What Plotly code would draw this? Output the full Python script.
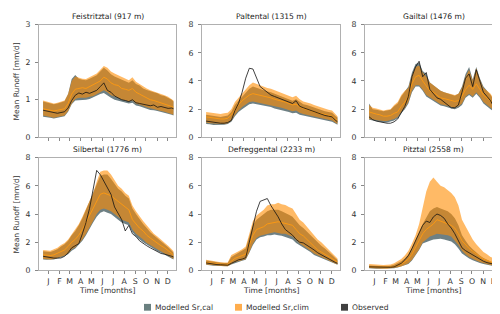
import plotly.graph_objects as go

DAYS = [0, 10, 20, 30, 40, 50, 60, 70, 80, 90, 100, 110, 120, 130, 140, 150, 160, 170, 180,
        190, 200, 210, 220, 230, 240, 250, 260, 270, 280, 290, 300, 310, 320, 330, 340, 350, 360, 365]

MONTH_DAYS = [15, 46, 74, 105, 135, 166, 196, 227, 258, 288, 319, 349]
MONTH_LABELS = ["J", "F", "M", "A", "M", "J", "J", "A", "S", "O", "N", "D"]

TITLES = ["Feistritztal (917 m)", "Paltental (1315 m)", "Gailtal (1476 m)",
          "Silbertal (1776 m)", "Defreggental (2233 m)", "Pitztal (2558 m)"]

# Feistritztal
feis_obs = [0.72, 0.7, 0.66, 0.64, 0.64, 0.66, 0.68, 0.78, 0.98, 1.12, 1.18, 1.15, 1.2, 1.17, 1.22, 1.25, 1.35, 1.45, 1.25,
            1.2, 1.1, 1.05, 1.0, 0.98, 0.95, 1.0, 0.92, 0.9, 0.88, 0.86, 0.84, 0.86, 0.8, 0.82, 0.8, 0.77, 0.78, 0.76]
feis_med = [0.76, 0.74, 0.72, 0.7, 0.72, 0.74, 0.76, 0.9, 1.15, 1.28, 1.3, 1.32, 1.3, 1.35, 1.4, 1.45, 1.5, 1.6, 1.55,
            1.45, 1.4, 1.38, 1.3, 1.28, 1.25, 1.3, 1.2, 1.15, 1.1, 1.05, 1.0, 0.98, 0.95, 0.92, 0.9, 0.85, 0.82, 0.8]
feis_clim_lo = [0.58, 0.56, 0.54, 0.52, 0.54, 0.56, 0.58, 0.7, 0.9, 1.02, 1.05, 1.05, 1.05, 1.08, 1.1, 1.15, 1.2, 1.25, 1.2,
                1.12, 1.08, 1.05, 1.0, 0.98, 0.95, 0.98, 0.9, 0.88, 0.84, 0.8, 0.76, 0.75, 0.72, 0.7, 0.68, 0.65, 0.62, 0.6]
feis_clim_hi = [0.98, 0.96, 0.92, 0.9, 0.92, 0.95, 0.98, 1.15, 1.5, 1.62, 1.58, 1.56, 1.55, 1.6, 1.65, 1.7, 1.8, 1.9, 1.85,
                1.75, 1.7, 1.65, 1.6, 1.55, 1.52, 1.6, 1.48, 1.42, 1.35, 1.3, 1.25, 1.22, 1.2, 1.15, 1.12, 1.08, 1.02, 0.98]
feis_cal_lo = [0.55, 0.53, 0.52, 0.5, 0.52, 0.54, 0.56, 0.68, 0.88, 0.98, 1.0, 1.0, 1.0, 1.02, 1.05, 1.1, 1.15, 1.18, 1.12,
               1.05, 1.0, 0.98, 0.94, 0.92, 0.9, 0.92, 0.85, 0.83, 0.8, 0.76, 0.73, 0.72, 0.7, 0.68, 0.66, 0.63, 0.6, 0.58]
feis_cal_hi = [0.95, 0.93, 0.9, 0.88, 0.9, 0.93, 0.96, 1.15, 1.55, 1.66, 1.56, 1.53, 1.52, 1.56, 1.6, 1.65, 1.75, 1.85, 1.78,
               1.68, 1.62, 1.58, 1.52, 1.48, 1.45, 1.52, 1.42, 1.38, 1.3, 1.26, 1.22, 1.2, 1.17, 1.12, 1.1, 1.06, 1.0, 0.95]

# Paltental
palt_obs = [1.15, 1.1, 1.05, 1.0, 1.0, 1.0, 1.05, 1.2, 1.9, 2.4, 3.2, 4.2, 4.9, 4.85, 4.2, 3.6, 3.4, 3.2, 3.0,
            2.9, 2.8, 2.75, 2.6, 2.5, 2.4, 2.6, 2.2, 2.1, 2.0, 1.9, 1.8, 1.7, 1.65, 1.55, 1.5, 1.45, 1.2, 1.1]
palt_med = [1.45, 1.4, 1.35, 1.3, 1.3, 1.3, 1.35, 1.6, 2.0, 2.3, 2.6, 2.8, 3.0, 3.1, 3.05, 3.0, 2.9, 2.85, 2.8,
            2.7, 2.65, 2.6, 2.5, 2.4, 2.3, 2.35, 2.15, 2.05, 2.0, 1.9, 1.8, 1.75, 1.65, 1.6, 1.55, 1.5, 1.3, 1.2]
palt_clim_lo = [1.05, 1.0, 0.95, 0.95, 0.95, 0.95, 1.0, 1.2, 1.6, 1.9, 2.15, 2.35, 2.5, 2.55, 2.5, 2.45, 2.4, 2.35, 2.3,
                2.2, 2.15, 2.1, 2.0, 1.95, 1.85, 1.9, 1.75, 1.65, 1.6, 1.55, 1.45, 1.4, 1.35, 1.3, 1.25, 1.2, 1.05, 0.95]
palt_clim_hi = [1.8, 1.75, 1.7, 1.65, 1.65, 1.7, 1.75, 2.0, 2.5, 2.8, 3.1, 3.4, 3.7, 3.9, 3.8, 3.7, 3.55, 3.5, 3.45,
                3.35, 3.25, 3.2, 3.1, 3.0, 2.85, 2.95, 2.7, 2.55, 2.5, 2.4, 2.3, 2.2, 2.1, 2.0, 1.95, 1.9, 1.65, 1.5]
palt_cal_lo = [0.95, 0.92, 0.88, 0.88, 0.88, 0.9, 0.95, 1.1, 1.5, 1.8, 2.0, 2.2, 2.35, 2.4, 2.35, 2.3, 2.25, 2.2, 2.15,
               2.05, 2.0, 1.95, 1.85, 1.8, 1.7, 1.75, 1.6, 1.55, 1.5, 1.45, 1.35, 1.3, 1.25, 1.2, 1.15, 1.1, 0.98, 0.9]
palt_cal_hi = [1.6, 1.55, 1.5, 1.45, 1.45, 1.5, 1.55, 1.8, 2.3, 2.6, 2.9, 3.2, 3.45, 3.6, 3.5, 3.4, 3.3, 3.25, 3.2,
               3.1, 3.0, 2.95, 2.85, 2.75, 2.6, 2.7, 2.5, 2.35, 2.3, 2.2, 2.1, 2.0, 1.95, 1.85, 1.8, 1.75, 1.5, 1.4]

# Gailtal
gail_obs = [1.45, 1.25, 1.15, 1.1, 1.0, 1.0, 1.0, 1.1, 1.3, 1.7, 2.2, 2.9, 4.3, 5.0, 5.4, 4.3, 4.6, 3.4, 3.1,
            2.8, 2.7, 2.5, 2.3, 2.1, 2.1, 2.3, 3.2, 4.2, 4.5, 3.6, 4.8, 4.0, 3.2, 2.9, 2.6, 2.1, 1.7, 1.55]
gail_med = [1.8, 1.7, 1.65, 1.6, 1.5, 1.5, 1.55, 1.7, 1.8, 2.2, 2.5, 2.9, 3.8, 4.3, 4.4, 4.0, 3.6, 3.3, 3.2,
            3.0, 2.8, 2.75, 2.7, 2.6, 2.55, 2.6, 2.9, 3.4, 3.7, 3.4, 3.8, 3.4, 3.0, 2.8, 2.6, 2.3, 2.0, 1.8]
gail_clim_lo = [1.3, 1.3, 1.25, 1.2, 1.15, 1.15, 1.2, 1.3, 1.45, 1.8, 2.1, 2.5, 3.3, 3.7, 3.7, 3.4, 3.0, 2.8, 2.7,
                2.5, 2.35, 2.3, 2.25, 2.15, 2.1, 2.2, 2.4, 2.9, 3.1, 2.9, 3.2, 2.9, 2.5, 2.3, 2.1, 1.9, 1.6, 1.4]
gail_clim_hi = [2.3, 2.1, 2.05, 2.0, 1.9, 1.95, 2.0, 2.3, 2.5, 3.0, 3.3, 3.5, 4.4, 5.0, 5.1, 4.6, 4.3, 3.9, 3.7,
                3.5, 3.3, 3.2, 3.15, 3.1, 3.0, 3.1, 3.5, 4.3, 4.8, 4.0, 4.9, 4.1, 3.5, 3.3, 3.1, 2.7, 2.4, 2.2]
gail_cal_lo = [1.25, 1.2, 1.15, 1.1, 1.05, 1.05, 1.1, 1.2, 1.35, 1.7, 2.0, 2.4, 3.2, 3.6, 3.6, 3.3, 2.9, 2.7, 2.6,
               2.4, 2.25, 2.2, 2.15, 2.05, 2.0, 2.1, 2.3, 2.8, 3.0, 2.8, 3.1, 2.8, 2.4, 2.2, 2.0, 1.8, 1.5, 1.3]
gail_cal_hi = [2.4, 2.0, 1.95, 1.9, 1.85, 1.9, 1.95, 2.2, 2.4, 2.9, 3.3, 3.6, 4.6, 5.2, 5.3, 4.7, 4.5, 3.9, 3.7,
               3.5, 3.3, 3.2, 3.1, 3.0, 2.95, 3.1, 3.6, 4.5, 5.0, 4.1, 5.0, 4.2, 3.6, 3.3, 3.0, 2.6, 2.3, 2.1]

# Silbertal
silb_obs = [1.0, 0.95, 0.88, 0.87, 0.87, 0.88, 1.0, 1.25, 1.6, 1.75, 1.9, 2.6, 3.4, 4.4, 5.7, 7.1, 6.8, 6.3, 5.9,
            5.4, 4.5, 4.0, 3.6, 2.8, 3.2, 2.6, 2.4, 2.1, 1.9, 1.75, 1.6, 1.45, 1.35, 1.2, 1.15, 1.1, 1.0, 0.95]
silb_med = [1.1, 1.05, 1.05, 1.1, 1.2, 1.3, 1.45, 1.7, 2.0, 2.2, 2.5, 2.9, 3.4, 3.9, 4.4, 4.9, 5.4, 5.5, 5.4,
            5.3, 5.1, 4.9, 4.7, 4.5, 4.3, 3.6, 3.3, 3.0, 2.8, 2.5, 2.3, 2.1, 1.9, 1.75, 1.6, 1.4, 1.2, 1.1]
silb_clim_lo = [0.8, 0.78, 0.78, 0.8, 0.88, 0.95, 1.05, 1.2, 1.5, 1.65, 1.9, 2.2, 2.6, 3.0, 3.5, 4.0, 4.3, 4.4, 4.3,
                4.2, 4.0, 3.8, 3.6, 3.5, 3.4, 2.9, 2.6, 2.4, 2.2, 1.95, 1.8, 1.6, 1.45, 1.35, 1.2, 1.05, 0.9, 0.8]
silb_clim_hi = [1.45, 1.4, 1.4, 1.5, 1.6, 1.8, 1.95, 2.2, 2.6, 2.9, 3.3, 3.8, 4.4, 4.9, 5.5, 6.3, 7.0, 7.1, 7.1,
                6.8, 6.4, 6.0, 5.8, 5.5, 5.3, 4.6, 4.2, 3.8, 3.5, 3.2, 2.9, 2.6, 2.4, 2.2, 2.0, 1.75, 1.5, 1.35]
silb_cal_lo = [0.78, 0.75, 0.75, 0.78, 0.85, 0.9, 1.0, 1.15, 1.4, 1.55, 1.8, 2.1, 2.5, 2.9, 3.4, 3.8, 4.1, 4.2, 4.1,
               4.0, 3.8, 3.6, 3.4, 3.3, 3.2, 2.7, 2.4, 2.2, 2.0, 1.8, 1.65, 1.5, 1.35, 1.25, 1.1, 1.0, 0.85, 0.78]
silb_cal_hi = [1.35, 1.3, 1.3, 1.4, 1.5, 1.7, 1.85, 2.1, 2.5, 2.8, 3.2, 3.7, 4.3, 4.8, 5.4, 6.1, 6.7, 6.8, 6.8,
               6.5, 6.1, 5.8, 5.6, 5.3, 5.1, 4.4, 4.0, 3.6, 3.3, 3.0, 2.7, 2.5, 2.3, 2.1, 1.9, 1.65, 1.4, 1.25]

# Defreggental
defr_obs = [0.53, 0.48, 0.43, 0.41, 0.4, 0.38, 0.37, 0.5, 0.65, 0.75, 0.8, 0.9, 2.0, 3.2, 4.2, 4.9, 5.0, 5.1, 4.6,
            4.2, 3.8, 3.3, 2.9, 2.7, 2.5, 2.2, 2.0, 1.95, 1.8, 1.6, 1.45, 1.25, 1.1, 0.95, 0.85, 0.7, 0.55, 0.5]
defr_med = [0.57, 0.52, 0.48, 0.46, 0.44, 0.42, 0.42, 0.65, 0.85, 0.95, 1.05, 1.15, 1.8, 2.5, 2.9, 3.0, 3.1, 3.3, 3.35,
            3.4, 3.45, 3.4, 3.35, 3.3, 3.2, 2.9, 2.6, 2.45, 2.2, 1.95, 1.7, 1.45, 1.3, 1.15, 1.0, 0.8, 0.65, 0.6]
defr_clim_lo = [0.42, 0.38, 0.35, 0.33, 0.32, 0.3, 0.3, 0.45, 0.6, 0.65, 0.72, 0.8, 1.3, 1.9, 2.3, 2.45, 2.5, 2.6, 2.65,
                2.7, 2.65, 2.6, 2.6, 2.5, 2.4, 2.15, 1.9, 1.75, 1.6, 1.4, 1.2, 1.05, 0.95, 0.85, 0.72, 0.6, 0.48, 0.42]
defr_clim_hi = [0.75, 0.7, 0.65, 0.62, 0.58, 0.56, 0.56, 1.1, 1.2, 1.35, 1.5, 1.7, 2.6, 3.5, 3.9, 4.1, 4.3, 4.6, 4.7,
                4.7, 4.8, 4.7, 4.65, 4.5, 4.4, 4.0, 3.6, 3.4, 3.1, 2.8, 2.5, 2.2, 2.0, 1.75, 1.5, 1.25, 0.95, 0.85]
defr_cal_lo = [0.4, 0.36, 0.33, 0.31, 0.3, 0.29, 0.29, 0.42, 0.55, 0.6, 0.68, 0.75, 1.25, 1.8, 2.2, 2.35, 2.4, 2.5, 2.5,
               2.55, 2.5, 2.45, 2.4, 2.3, 2.2, 1.95, 1.75, 1.6, 1.45, 1.3, 1.1, 0.95, 0.85, 0.75, 0.65, 0.55, 0.45, 0.4]
defr_cal_hi = [0.7, 0.65, 0.6, 0.58, 0.55, 0.52, 0.52, 0.95, 1.1, 1.25, 1.35, 1.55, 2.4, 3.2, 3.6, 3.8, 4.0, 4.2, 4.3,
               4.3, 4.3, 4.2, 4.1, 3.95, 3.8, 3.5, 3.2, 3.0, 2.75, 2.5, 2.2, 1.95, 1.75, 1.55, 1.35, 1.1, 0.85, 0.75]

# Pitztal
pitz_obs = [0.25, 0.24, 0.22, 0.2, 0.2, 0.2, 0.22, 0.25, 0.35, 0.5, 0.75, 1.05, 1.55, 2.1, 2.6, 3.2, 3.5, 3.4, 3.8,
            4.0, 3.9, 3.7, 3.3, 3.0, 2.6, 2.1, 1.6, 1.4, 1.25, 1.1, 0.92, 0.8, 0.65, 0.55, 0.48, 0.42, 0.36, 0.35]
pitz_med = [0.26, 0.25, 0.23, 0.22, 0.22, 0.22, 0.24, 0.28, 0.35, 0.45, 0.6, 0.8, 1.15, 1.6, 2.1, 2.6, 2.9, 3.1, 3.3,
            3.6, 3.5, 3.4, 3.3, 3.2, 3.0, 2.6, 2.1, 1.8, 1.55, 1.35, 1.15, 0.95, 0.8, 0.7, 0.58, 0.5, 0.42, 0.4]
pitz_clim_lo = [0.16, 0.15, 0.13, 0.12, 0.12, 0.12, 0.14, 0.17, 0.22, 0.28, 0.38, 0.5, 0.75, 1.1, 1.5, 2.0, 2.2, 2.4, 2.5,
                2.6, 2.6, 2.55, 2.5, 2.4, 2.1, 1.8, 1.4, 1.15, 0.95, 0.82, 0.7, 0.6, 0.5, 0.45, 0.38, 0.32, 0.27, 0.25]
pitz_clim_hi = [0.45, 0.42, 0.4, 0.38, 0.38, 0.4, 0.42, 0.5, 0.65, 0.8, 1.05, 1.4, 1.9, 2.5, 3.3, 4.4, 5.6, 6.3, 6.6,
                6.3, 6.0, 5.9, 5.7, 5.5, 5.2, 4.6, 3.6, 3.1, 2.6, 2.2, 1.85, 1.6, 1.3, 1.15, 0.95, 0.85, 0.7, 0.65]
pitz_cal_lo = [0.15, 0.14, 0.12, 0.11, 0.11, 0.11, 0.13, 0.15, 0.2, 0.25, 0.35, 0.45, 0.7, 1.05, 1.45, 1.9, 2.0, 2.1, 2.2,
               2.25, 2.25, 2.2, 2.15, 2.05, 1.85, 1.55, 1.2, 1.0, 0.85, 0.72, 0.6, 0.52, 0.45, 0.4, 0.34, 0.3, 0.25, 0.23]
pitz_cal_hi = [0.35, 0.33, 0.3, 0.29, 0.29, 0.3, 0.32, 0.4, 0.5, 0.65, 0.85, 1.15, 1.6, 2.1, 2.7, 3.3, 3.8, 4.2, 4.4,
               4.5, 4.4, 4.3, 4.2, 4.0, 3.7, 3.2, 2.5, 2.1, 1.75, 1.5, 1.25, 1.05, 0.88, 0.75, 0.62, 0.53, 0.45, 0.42]

PANELS = [
    (feis_obs, feis_med, feis_clim_lo, feis_clim_hi, feis_cal_lo, feis_cal_hi),
    (palt_obs, palt_med, palt_clim_lo, palt_clim_hi, palt_cal_lo, palt_cal_hi),
    (gail_obs, gail_med, gail_clim_lo, gail_clim_hi, gail_cal_lo, gail_cal_hi),
    (silb_obs, silb_med, silb_clim_lo, silb_clim_hi, silb_cal_lo, silb_cal_hi),
    (defr_obs, defr_med, defr_clim_lo, defr_clim_hi, defr_cal_lo, defr_cal_hi),
    (pitz_obs, pitz_med, pitz_clim_lo, pitz_clim_hi, pitz_cal_lo, pitz_cal_hi),
]
Y_MAX = [3, 8, 8, 8, 8, 8]
Y_TICKS = [[0, 1, 2, 3], [0, 2, 4, 6, 8], [0, 2, 4, 6, 8], [0, 2, 4, 6, 8], [0, 2, 4, 6, 8], [0, 2, 4, 6, 8]]

LEGEND_LABELS = ["Modelled Sr,cal", "Modelled Sr,clim", "Observed"]
Y_LABEL = "Mean Runoff [mm/d]"
X_LABEL = "Time [months]"

W, H = 500, 314
FONT = "DejaVu Sans"
CAL_FILL = "rgb(110,128,132)"
CLIM_FILL = "rgba(255,140,0,0.6)"
COL_X = [(31, 168), (194, 332), (357, 494)]
ROW_Y = [(13, 129), (150, 266)]
TXT = dict(size=7.6, color="#333", family=FONT)
TICKF = dict(size=7.8, color="#333", family=FONT)

fig = go.Figure()
layout_axes = {}
annotations = []
shapes = []


def band(lo, hi):
    return DAYS + DAYS[::-1], hi + lo[::-1]


for i, (obs, med, clo, chi, kl, kh) in enumerate(PANELS):
    r, c = divmod(i, 3)
    n = i + 1
    xa = "x" if n == 1 else f"x{n}"
    ya = "y" if n == 1 else f"y{n}"
    common = dict(xaxis=xa, yaxis=ya, showlegend=False, hoverinfo="skip")
    bx, by = band(kl, kh)
    fig.add_trace(go.Scatter(x=bx, y=by, mode="lines", line=dict(width=0), fill="toself",
                             fillcolor=CAL_FILL, **common))
    bx, by = band(clo, chi)
    fig.add_trace(go.Scatter(x=bx, y=by, mode="lines", line=dict(width=0), fill="toself",
                             fillcolor=CLIM_FILL, **common))
    fig.add_trace(go.Scatter(x=DAYS, y=med, mode="lines", line=dict(width=0.9, color="#ff9a10"), **common))
    fig.add_trace(go.Scatter(x=DAYS, y=obs, mode="lines", line=dict(width=0.8, color="#111111"), **common))

    x0, x1 = COL_X[c]
    y0, y1 = ROW_Y[r]
    xkey = "xaxis" if n == 1 else f"xaxis{n}"
    ykey = "yaxis" if n == 1 else f"yaxis{n}"
    layout_axes[xkey] = dict(
        domain=[x0 / W, x1 / W], range=[-11.5, 372], anchor=ya,
        tickvals=MONTH_DAYS, ticktext=MONTH_LABELS if r == 1 else [""] * 12,
        ticks="outside", ticklen=3, tickcolor="#888", tickwidth=0.8,
        showline=True, linecolor="#b0b0b0", linewidth=1, mirror=True,
        showgrid=False, zeroline=False, tickfont=TICKF,
    )
    layout_axes[ykey] = dict(
        domain=[1 - y1 / H, 1 - y0 / H], range=[0, Y_MAX[i]], anchor=xa,
        tickvals=Y_TICKS[i], ticks="outside", ticklen=3, tickcolor="#888", tickwidth=0.8,
        showline=True, linecolor="#b0b0b0", linewidth=1, mirror=True, ticklabelstandoff=3,
        showgrid=False, zeroline=False, tickfont=TICKF,
    )
    annotations.append(dict(text=TITLES[i], xref="paper", yref="paper", x=(x0 + x1) / 2 / W,
                            y=1 - (y0 - 1.5) / H, xanchor="center", yanchor="bottom", showarrow=False,
                            font=dict(size=7.6, color="#222", family=FONT)))
    if r == 1:
        annotations.append(dict(text=X_LABEL, xref="paper", yref="paper", x=(x0 + x1) / 2 / W,
                                y=1 - 287 / H, xanchor="center", yanchor="middle", showarrow=False, font=TXT))
    if c == 0:
        annotations.append(dict(text=Y_LABEL, xref="paper", yref="paper", x=8.5 / W,
                                y=1 - (y0 + y1 + 2) / 2 / H, xanchor="center", yanchor="middle",
                                textangle=-90, showarrow=False, font=TXT))

# manual legend
LEG_COLORS = ["rgb(106,128,128)", "rgb(255,173,77)", "rgb(64,64,64)"]
LEG_X = [136, 227, 333]
leg_y = 304
for lbl, col, lx in zip(LEGEND_LABELS, LEG_COLORS, LEG_X):
    shapes.append(dict(type="rect", xref="paper", yref="paper", x0=lx / W, x1=(lx + 7) / W,
                       y0=1 - (leg_y + 3.5) / H, y1=1 - (leg_y - 3.5) / H, fillcolor=col, line=dict(width=0)))
    annotations.append(dict(text=lbl, xref="paper", yref="paper", x=(lx + 9) / W, y=1 - leg_y / H,
                            xanchor="left", yanchor="middle", showarrow=False, font=TXT))

fig.update_layout(
    width=W, height=H, margin=dict(l=0, r=0, t=0, b=0),
    paper_bgcolor="white", plot_bgcolor="white",
    annotations=annotations, shapes=shapes, showlegend=False,
    **layout_axes,
)

fig.write_html("out.html")
